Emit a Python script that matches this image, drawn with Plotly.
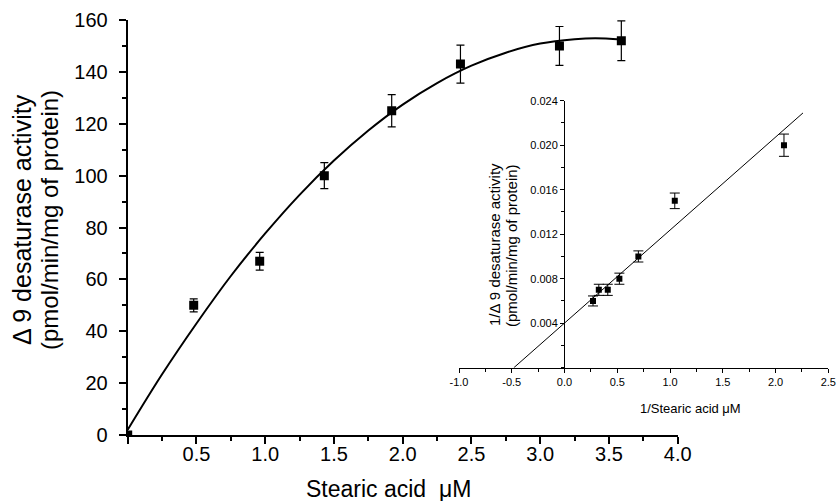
import plotly.graph_objects as go

# ---- main plot data ----
main_x = [0.0, 0.48, 0.96, 1.43, 1.92, 2.42, 3.14, 3.59]
main_y = [0.0, 50, 67, 100, 125, 143, 150, 152]
main_err = [0.0, 2.5, 3.4, 5.0, 6.2, 7.3, 7.5, 7.7]

curve_x = [0, 0.25, 0.5, 0.75, 1.0, 1.25, 1.5, 1.75, 2.0, 2.25, 2.5, 2.75, 3.0, 3.25, 3.4, 3.59]
curve_y = [2, 23.4, 43, 61.3, 77.7, 92.6, 105.8, 117.4, 127.4, 135.7, 142.4, 147.4, 150.9, 152.6, 153, 152.5]

main_xticks = [0, 0.5, 1.0, 1.5, 2.0, 2.5, 3.0, 3.5, 4.0]
main_xtext = ["", "0.5", "1.0", "1.5", "2.0", "2.5", "3.0", "3.5", "4.0"]
main_yticks = [0, 20, 40, 60, 80, 100, 120, 140, 160]

# ---- inset (double reciprocal) data ----
inv_x = [0.27, 0.325, 0.41, 0.52, 0.70, 1.045, 2.08]
inv_y = [0.006, 0.007, 0.007, 0.008, 0.010, 0.015, 0.020]
inv_err = [0.00045, 0.0005, 0.0005, 0.0005, 0.0005, 0.0007, 0.001]

fit_x = [-0.48, 2.26]
fit_y = [0.0, 0.0229]

inset_xticks = [-1.0, -0.5, 0.0, 0.5, 1.0, 1.5, 2.0, 2.5]
inset_xtext = ["-1.0", "-0.5", "0.0", "0.5", "1.0", "1.5", "2.0", "2.5"]
inset_yticks = [0.004, 0.008, 0.012, 0.016, 0.020, 0.024]
inset_ytext = ["0.004", "0.008", "0.012", "0.016", "0.020", "0.024"]

W, H = 838, 501
FONT = "Arial, Liberation Sans, sans-serif"

fig = go.Figure()

fig.add_trace(go.Scatter(x=curve_x, y=curve_y, mode="lines", line=dict(color="black", width=2, shape="spline"),
                         xaxis="x", yaxis="y", hoverinfo="skip"))
fig.add_trace(go.Scatter(x=main_x, y=main_y, mode="markers",
                         marker=dict(symbol="square", size=9, color="black"),
                         error_y=dict(type="data", array=main_err, visible=True, color="black", thickness=1.2, width=4),
                         xaxis="x", yaxis="y"))

fig.add_trace(go.Scatter(x=fit_x, y=fit_y, mode="lines", line=dict(color="black", width=1),
                         xaxis="x2", yaxis="y2", cliponaxis=False))
fig.add_trace(go.Scatter(x=inv_x, y=inv_y, mode="markers",
                         marker=dict(symbol="square", size=6, color="black"),
                         error_y=dict(type="data", array=inv_err, visible=True, color="black", thickness=1, width=5),
                         xaxis="x2", yaxis="y2"))

def fx(px):
    return px / W

def fy(py):
    return (H - py) / H

fig.update_layout(
    width=W, height=H,
    margin=dict(l=0, r=0, t=0, b=0, autoexpand=False),
    paper_bgcolor="white", plot_bgcolor="rgba(0,0,0,0)",
    showlegend=False,
    font=dict(family=FONT, color="black"),
    xaxis=dict(domain=[fx(127.7), fx(677.7)], range=[0, 4], anchor="y", automargin=False,
               tickmode="array", tickvals=main_xticks, ticktext=main_xtext,
               ticks="outside", ticklen=7, tickwidth=1.5, tickcolor="black", ticklabelstandoff=-7,
               showline=True, linecolor="black", linewidth=2, showgrid=False, zeroline=False,
               tickfont=dict(size=20, family=FONT),
               minor=dict(tickmode="linear", tick0=0, dtick=0.25, ticks="outside", ticklen=4, tickwidth=1.5, tickcolor="black")),
    yaxis=dict(domain=[fy(435), fy(20)], range=[0, 160], anchor="x", automargin=False,
               tickmode="array", tickvals=main_yticks,
               ticks="outside", ticklen=7, tickwidth=1.5, tickcolor="black", ticklabelstandoff=7,
               showline=True, linecolor="black", linewidth=2, showgrid=False, zeroline=False,
               tickfont=dict(size=20, family=FONT),
               minor=dict(tickmode="linear", tick0=0, dtick=10, ticks="outside", ticklen=4, tickwidth=1.5, tickcolor="black")),
    xaxis2=dict(domain=[fx(459), fx(828.3)], range=[-1.0, 2.5], anchor="y2", automargin=False,
                tickmode="array", tickvals=inset_xticks, ticktext=inset_xtext,
                ticks="outside", ticklen=4, tickwidth=1, tickcolor="black",
                showline=True, linecolor="black", linewidth=1, showgrid=False, zeroline=False,
                tickfont=dict(size=11, family=FONT),
                minor=dict(tickmode="linear", tick0=0, dtick=0.25, ticks="outside", ticklen=3, tickwidth=1, tickcolor="black")),
    yaxis2=dict(domain=[fy(367.7), fy(100.7)], range=[0, 0.024], anchor="free", position=fx(564), automargin=False,
                tickmode="array", tickvals=inset_yticks, ticktext=inset_ytext,
                ticks="outside", ticklen=4, tickwidth=1, tickcolor="black", ticklabelstandoff=0,
                showline=True, linecolor="black", linewidth=1, showgrid=False, zeroline=False,
                tickfont=dict(size=11, family=FONT),
                minor=dict(tickmode="linear", tick0=0, dtick=0.002, ticks="outside", ticklen=3, tickwidth=1, tickcolor="black")),
    annotations=[
        dict(text="Δ 9 desaturase activity", x=fx(22), y=fy(220), xref="paper", yref="paper",
             textangle=-90, showarrow=False, font=dict(size=25, family=FONT), xanchor="center", yanchor="middle"),
        dict(text="(pmol/min/mg of protein)", x=fx(50), y=fy(220), xref="paper", yref="paper",
             textangle=-90, showarrow=False, font=dict(size=24, family=FONT), xanchor="center", yanchor="middle"),
        dict(text="Stearic acid  μM", x=fx(388), y=fy(489), xref="paper", yref="paper",
             showarrow=False, font=dict(size=23, family=FONT), xanchor="center", yanchor="middle"),
        dict(text="1/Δ 9 desaturase activity", x=fx(494), y=fy(245), xref="paper", yref="paper",
             textangle=-90, showarrow=False, font=dict(size=15, family=FONT), xanchor="center", yanchor="middle"),
        dict(text="(pmol/min/mg of protein)", x=fx(511), y=fy(245), xref="paper", yref="paper",
             textangle=-90, showarrow=False, font=dict(size=15, family=FONT), xanchor="center", yanchor="middle"),
        dict(text="1/Stearic acid μM", x=fx(690), y=fy(408), xref="paper", yref="paper",
             showarrow=False, font=dict(size=13, family=FONT), xanchor="center", yanchor="middle"),
    ],
)

fig.write_html("out.html")
